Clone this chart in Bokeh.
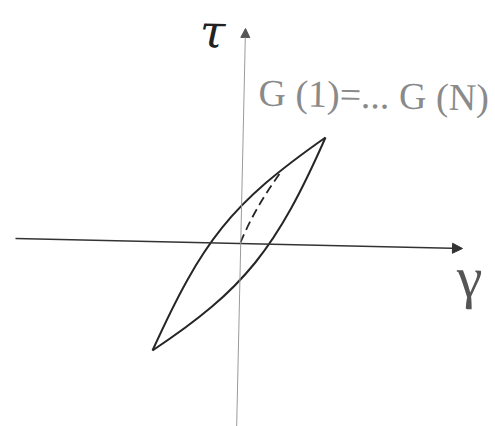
from bokeh.plotting import figure
from bokeh.models import Range1d, Arrow, NormalHead
from bokeh.core.properties import value
from bokeh.embed import file_html
from bokeh.resources import INLINE

# Hysteresis loop in shear stress (tau) versus shear strain (gamma), arbitrary units
tip_gamma = [-0.88, 0.85]          # loop reversal points
tip_tau = [-1.07, 1.06]

# reloading branch (upper-left): cubic Bezier control points
reload_ctrl_gamma = [-0.38, -0.10]
reload_ctrl_tau = [0.03, 0.395]

# unloading branch (lower-right): cubic Bezier control points
unload_ctrl_gamma = [0.04, 0.36]
unload_ctrl_tau = [-0.46, -0.05]

# backbone (initial loading) curve, dashed: start, end, control
backbone_gamma = [0.0, 0.40, 0.14]
backbone_tau = [0.01, 0.71, 0.35]

# axis extents
gamma_axis = [-2.25, 2.22]
gamma_axis_tilt = [0.05, -0.05]
tau_axis = [-1.90, 2.15]
tau_axis_tilt = [-0.04, 0.05]

label_text = "G (1)=... G (N)"
tilt = -0.022

p = figure(width=495, height=426, output_backend="svg", toolbar_location=None,
           x_range=Range1d(-2.40, 2.55), y_range=Range1d(-1.83, 2.43),
           min_border=0)
p.axis.visible = False
p.grid.visible = False
p.outline_line_color = None
p.background_fill_color = "white"
p.border_fill_color = "white"

# axes with arrow heads
p.add_layout(Arrow(end=NormalHead(size=10, fill_color="#333333", line_color="#333333"),
                   x_start=gamma_axis[0], y_start=gamma_axis_tilt[0],
                   x_end=gamma_axis[1], y_end=gamma_axis_tilt[1],
                   line_color="#333333", line_width=1.6))
p.add_layout(Arrow(end=NormalHead(size=9, fill_color="#555555", line_color="#555555"),
                   x_start=tau_axis_tilt[0], y_start=tau_axis[0],
                   x_end=tau_axis_tilt[1], y_end=tau_axis[1],
                   line_color="#9a9a9a", line_width=1.0))

loop_color = "#262626"
p.bezier(x0=[tip_gamma[0]], y0=[tip_tau[0]], x1=[tip_gamma[1]], y1=[tip_tau[1]],
         cx0=[reload_ctrl_gamma[0]], cy0=[reload_ctrl_tau[0]],
         cx1=[reload_ctrl_gamma[1]], cy1=[reload_ctrl_tau[1]],
         line_color=loop_color, line_width=2.0)
p.bezier(x0=[tip_gamma[0]], y0=[tip_tau[0]], x1=[tip_gamma[1]], y1=[tip_tau[1]],
         cx0=[unload_ctrl_gamma[0]], cy0=[unload_ctrl_tau[0]],
         cx1=[unload_ctrl_gamma[1]], cy1=[unload_ctrl_tau[1]],
         line_color=loop_color, line_width=2.0)
p.quadratic(x0=[backbone_gamma[0]], y0=[backbone_tau[0]],
            x1=[backbone_gamma[1]], y1=[backbone_tau[1]],
            cx=[backbone_gamma[2]], cy=[backbone_tau[2]],
            line_color=loop_color, line_width=1.8, line_dash="9 5")

p.text(x=[-0.28], y=[2.12], text=["τ"], text_font=value("DejaVu Serif"),
       text_font_style="italic", text_font_size="46px", text_color="#222222",
       text_align="center", text_baseline="alphabetic", angle=tilt)
p.text(x=[2.29], y=[-0.34], text=["γ"], text_font=value("Liberation Serif"),
       text_font_size="58px", text_color="#555555", text_align="center",
       text_baseline="alphabetic", angle=tilt)
p.text(x=[0.18], y=[1.51], text=[label_text], text_font=value("Liberation Serif"),
       text_font_size="38px", text_color="#8a8a8a", text_align="left",
       text_baseline="alphabetic", angle=tilt)

open("out.html", "w").write(file_html(p, INLINE))
